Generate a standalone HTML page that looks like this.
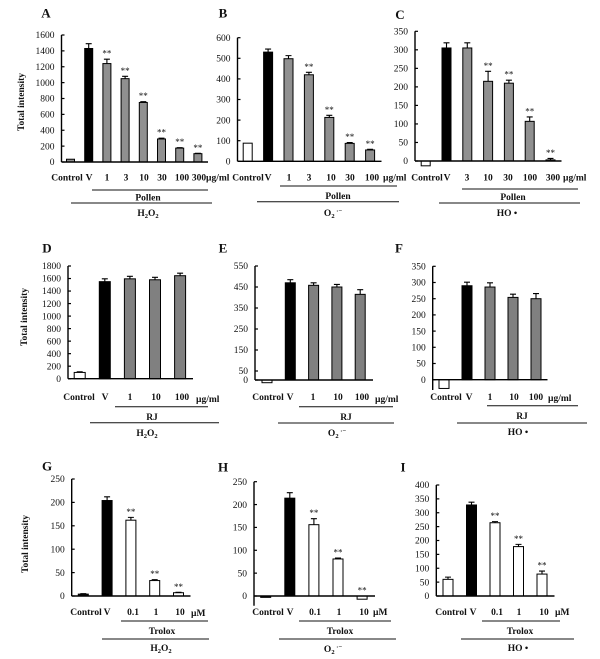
<!DOCTYPE html>
<html lang="en">
<head>
<meta charset="utf-8">
<title>Total intensity panels A to I</title>
<style>
html,body{margin:0;padding:0;background:#fff;}
#figure{display:block;width:600px;height:659px;background:#fff;}
text{font-family:"Liberation Serif",serif;fill:#111;}
</style>
</head>
<body>
<svg id="figure" width="600" height="659" viewBox="0 0 600 659" xmlns="http://www.w3.org/2000/svg"></svg>
<script>
// ---- data ----
const categoriesA = ['Control','V','1','3','10','30','100','300'];
const valuesA = [35,1430,1240,1050,750,290,175,105];
const errorsA = [0,60,55,30,10,10,5,5];
const starsA = [0,0,1,1,1,1,1,1];
const ticksA = [0,200,400,600,800,1000,1200,1400,1600];

const categoriesB = ['Control','V','1','3','10','30','100'];
const valuesB = [88,530,498,420,213,87,55];
const errorsB = [0,15,15,12,10,4,3];
const starsB = [0,0,0,1,1,1,1];
const ticksB = [0,100,200,300,400,500,600];

const categoriesC = ['Control','V','3','10','30','100','300'];
const valuesC = [-13,305,305,215,210,107,3];
const errorsC = [0,14,14,27,8,12,4];
const starsC = [0,0,0,1,1,1,1];
const ticksC = [0,50,100,150,200,250,300,350];

const categoriesD = ['Control','V','1','10','100'];
const valuesD = [100,1550,1595,1580,1645];
const errorsD = [10,45,40,40,40];
const starsD = [0,0,0,0,0];
const ticksD = [0,200,400,600,800,1000,1200,1400,1600,1800];

const categoriesE = ['Control','V','1','10','100'];
const valuesE = [-15,470,458,450,415];
const errorsE = [0,15,12,12,22];
const starsE = [0,0,0,0,0];
const ticksE = [0,50,150,250,350,450,550];

const categoriesF = ['Control','V','1','10','100'];
const valuesF = [-27,290,286,254,250];
const errorsF = [0,11,13,10,16];
const starsF = [0,0,0,0,0];
const ticksF = [0,50,100,150,200,250,300,350];

const categoriesG = ['Control','V','0.1','1','10'];
const valuesG = [4,204,162,33,7];
const errorsG = [1,8,6,2,1];
const starsG = [0,0,1,1,1];
const ticksG = [0,50,100,150,200,250];

const categoriesH = ['Control','V','0.1','1','10'];
const valuesH = [-3,214,156,81,-7];
const errorsH = [3,12,13,2,1];
const starsH = [0,0,1,1,1];
const ticksH = [0,50,100,150,200,250];

const categoriesI = ['Control','V','0.1','1','10'];
const valuesI = [60,328,264,178,79];
const errorsI = [8,10,4,8,11];
const starsI = [0,0,1,1,1];
const ticksI = [0,50,100,150,200,250,300,350,400];

// ---- layout ----
const panels = [
 {id:'A',cats:categoriesA,vals:valuesA,errs:errorsA,stars:starsA,ticks:ticksA,
  axisX:61.5,axisEnd:208,domain:[0,1600],range:[162,35],axisBottom:162,first:70.5,step:18.2,barW:8,
  control:'#909090',dose:'#909090',letter:[46,13],catY:177.5,labelX:[67,89,107,126,144,162,182,199],
  unit:'µg/ml',unitX:206,unitY:177.5,group:'Pollen',reagent:'h2o2',
  line1:[92,208,190],groupAt:[148,197.5],line2:[71,212,203],reagentAt:[148,213],yTitle:[21,102]},
 {id:'B',cats:categoriesB,vals:valuesB,errs:errorsB,stars:starsB,ticks:ticksB,
  axisX:237.5,axisEnd:381.5,domain:[0,600],range:[161.3,37.7],axisBottom:161.3,first:247.7,step:20.4,barW:9,
  control:'#ffffff',dose:'#909090',letter:[223,13],catY:177.5,labelX:[248,268,289,309,331,350,372],
  unit:'µg/ml',unitX:383,unitY:177.5,group:'Pollen',reagent:'o2',
  line1:[280,397,186],groupAt:[338,196],line2:[257,399,201.7],reagentAt:[333,213]},
 {id:'C',cats:categoriesC,vals:valuesC,errs:errorsC,stars:starsC,ticks:ticksC,
  axisX:415,axisEnd:561.5,domain:[0,350],range:[161,31.3],axisBottom:161,first:425.7,step:20.8,barW:9,
  control:'#ffffff',dose:'#909090',letter:[400,14.5],catY:177.5,labelX:[427,447,467,488,508,530,553],
  unit:'µg/ml',unitX:563,unitY:177.5,group:'Pollen',reagent:'ho',
  line1:[462,578,189],groupAt:[513,197],line2:[439,580,203],reagentAt:[507,213]},
 {id:'D',cats:categoriesD,vals:valuesD,errs:errorsD,stars:starsD,ticks:ticksD,
  axisX:68,axisEnd:193,domain:[0,1800],range:[378.7,266],axisBottom:378.7,first:79.7,step:25.1,barW:11,
  control:'#ffffff',dose:'#808080',letter:[47,248],catY:396.7,labelX:[79,105,130,156,182],
  unit:'µg/ml',unitX:196,unitY:398.7,group:'RJ',reagent:'h2o2',
  line1:[115,208,406.7],groupAt:[152,417],line2:[90,219,422.7],reagentAt:[147,433],yTitle:[24,317]},
 {id:'E',cats:categoriesE,vals:valuesE,errs:errorsE,stars:starsE,ticks:ticksE,
  axisX:255,axisEnd:373,domain:[0,50,550],range:[380,371,266],axisBottom:380,first:267,step:23.3,barW:10,
  control:'#ffffff',dose:'#808080',letter:[223,248],catY:396.7,labelX:[268,290,313,338,362],
  unit:'µg/ml',unitX:375,unitY:399,group:'RJ',reagent:'o2',
  line1:[299,393,406.7],groupAt:[346,417],line2:[278,394,423],reagentAt:[337,433]},
 {id:'F',cats:categoriesF,vals:valuesF,errs:errorsF,stars:starsF,ticks:ticksF,
  axisX:432.7,axisEnd:547.5,domain:[0,350],range:[379.7,266.3],axisBottom:390,first:444,step:23,barW:10,
  control:'#ffffff',dose:'#808080',letter:[399,248],catY:396.7,labelX:[446,469,490,514,536],
  unit:'µg/ml',unitX:548,unitY:398,group:'RJ',reagent:'ho',
  line1:[487,578,405.7],groupAt:[522,416],line2:[457,587,423],reagentAt:[518,432]},
 {id:'G',cats:categoriesG,vals:valuesG,errs:errorsG,stars:starsG,ticks:ticksG,
  axisX:71.7,axisEnd:190.5,domain:[0,250],range:[596,479],axisBottom:596,first:83.3,step:23.8,barW:10,
  control:'#111111',dose:'#ffffff',letter:[47,466],catY:612,labelX:[86,107,133,156,180],
  unit:'µM',unitX:191,unitY:613,group:'Trolox',reagent:'h2o2',
  line1:[121,208,621],groupAt:[162,631],line2:[102,209,639],reagentAt:[161,648],yTitle:[25,544]},
 {id:'H',cats:categoriesH,vals:valuesH,errs:errorsH,stars:starsH,ticks:ticksH,
  axisX:254,axisEnd:375,domain:[0,250],range:[596,481.7],axisBottom:605.7,first:265.7,step:24.1,barW:10,
  control:'#111111',dose:'#ffffff',letter:[223,467],catY:612,labelX:[268,290,315,339,364],
  unit:'µM',unitX:373,unitY:612,group:'Trolox',reagent:'o2',
  line1:[299,391,621],groupAt:[340,631],line2:[279,396,639],reagentAt:[333,649]},
 {id:'I',cats:categoriesI,vals:valuesI,errs:errorsI,stars:starsI,ticks:ticksI,
  axisX:436.3,axisEnd:554.5,domain:[0,400],range:[596,485],axisBottom:596,first:448,step:23.5,barW:10,
  control:'#ffffff',dose:'#ffffff',letter:[403,467],catY:612,labelX:[451,473,497,519,544],
  unit:'µM',unitX:555,unitY:612,group:'Trolox',reagent:'ho',
  line1:[482,560,621],groupAt:[520,631],line2:[461,574,639],reagentAt:[518,648]}
];

// ---- drawing ----
const NS = 'http://www.w3.org/2000/svg';
const root = document.getElementById('figure');

function make(tag, attrs, parent) {
  const el = document.createElementNS(NS, tag);
  for (const k in attrs) el.setAttribute(k, attrs[k]);
  (parent || root).appendChild(el);
  return el;
}

// Piecewise linear value axis; extrapolates from the nearest segment.
function yAxis(p, v) {
  const d = p.domain, r = p.range;
  let i = 0;
  while (i < d.length - 2 && v > d[i + 1]) i++;
  return r[i] + (v - d[i]) * (r[i + 1] - r[i]) / (d[i + 1] - d[i]);
}
function xAxis(p, i) {
  return p.first + p.step * i;
}
function addText(str, x, y, size, weight, anchor, parent) {
  const t = make('text', {x:x, y:y, 'font-size':size, 'font-weight':weight, 'text-anchor':anchor}, parent);
  t.textContent = str;
  return t;
}
function addSpan(t, str, dy, size) {
  const s = make('tspan', {dy:dy, 'font-size':size}, t);
  s.textContent = str;
}

panels.forEach(function (p) {
  const g = make('g', {});
  
  
  const zero = yAxis(p, 0);

  const letter = addText(p.id, p.letter[0], p.letter[1] + 4.5, 13, 'bold', 'middle', g);
  
  

  if (p.yTitle) {
    const yt = addText('Total intensity', 0, 0, 9.5, 'bold', 'middle', g);
    yt.setAttribute('transform', 'translate(' + (p.yTitle[0] + 3) + ',' + p.yTitle[1] + ') rotate(-90)');
    
    
  }

  p.vals.forEach(function (v, i) {
    const cx = xAxis(p, i);
    const top = yAxis(p, v);
    const fill = i === 0 ? p.control : (i === 1 ? '#000000' : p.dose);
    const bar = make('rect', {
      x: cx - p.barW / 2, y: Math.min(top, zero), width: p.barW,
      height: Math.max(Math.abs(top - zero), 0.5),
      fill: fill, stroke: '#000', 'stroke-width': 1
    }, g);
    
    

    let markTop = Math.min(top, zero);
    if (p.errs[i] > 0 && v >= 0) {
      const et = yAxis(p, v + p.errs[i]);
      markTop = et;
      const err = make('path', {
        d: 'M' + cx + ' ' + top + 'V' + et + 'M' + (cx - 3) + ' ' + et + 'H' + (cx + 3),
        fill: 'none', stroke: '#000', 'stroke-width': 1.1
      }, g);
      
      
    }
    if (p.stars[i]) {
      const st = addText('**', cx, markTop - 2.5, 9, 'normal', 'middle', g);
      st.setAttribute('fill', '#444');
      
      
    }
    const lab = addText(p.cats[i], p.labelX[i], p.catY + 3.2, 9.5, 'bold', 'middle', g);
    
    
  });

  const axis = make('path', {
    d: 'M' + p.axisX + ' ' + yAxis(p, p.ticks[p.ticks.length - 1]) + 'V' + p.axisBottom +
       'M' + p.axisX + ' ' + zero + 'H' + p.axisEnd,
    fill: 'none', stroke: '#000', 'stroke-width': 1.4
  }, g);
  
  

  p.ticks.forEach(function (t) {
    const y = yAxis(p, t);
    const tk = make('line', {x1: p.axisX, x2: p.axisX + 3, y1: y, y2: y, stroke: '#000', 'stroke-width': 1.2}, g);
    
    
    const tl = addText(String(t), p.axisX - 7, y + 3.2, 9.5, 'normal', 'end', g);
    
    
  });

  const un = addText(p.unit, p.unitX, p.unitY + 3.2, 9.5, 'bold', 'start', g);
  
  

  const l1 = make('line', {x1: p.line1[0], x2: p.line1[1], y1: p.line1[2], y2: p.line1[2], stroke: '#111', 'stroke-width': 1}, g);
  
  
  const gl = addText(p.group, p.groupAt[0], p.groupAt[1] + 3.2, 9.5, 'bold', 'middle', g);
  
  
  const l2 = make('line', {x1: p.line2[0], x2: p.line2[1], y1: p.line2[2], y2: p.line2[2], stroke: '#111', 'stroke-width': 1}, g);
  
  

  const r = addText('', p.reagentAt[0], p.reagentAt[1] + 3.2, 9.5, 'bold', 'middle', g);
  
  
  if (p.reagent === 'h2o2') {
    addSpan(r, 'H', 0, 9.5); addSpan(r, '2', 2, 6.5); addSpan(r, 'O', -2, 9.5); addSpan(r, '2', 2, 6.5);
  } else if (p.reagent === 'o2') {
    addSpan(r, 'O', 0, 9.5); addSpan(r, '2', 2, 6.5); addSpan(r, ' ·', -5, 6.5); addSpan(r, '−', 0, 6.5);
  } else {
    addSpan(r, 'HO •', 0, 9.5);
  }
});
</script>
</body>
</html>
